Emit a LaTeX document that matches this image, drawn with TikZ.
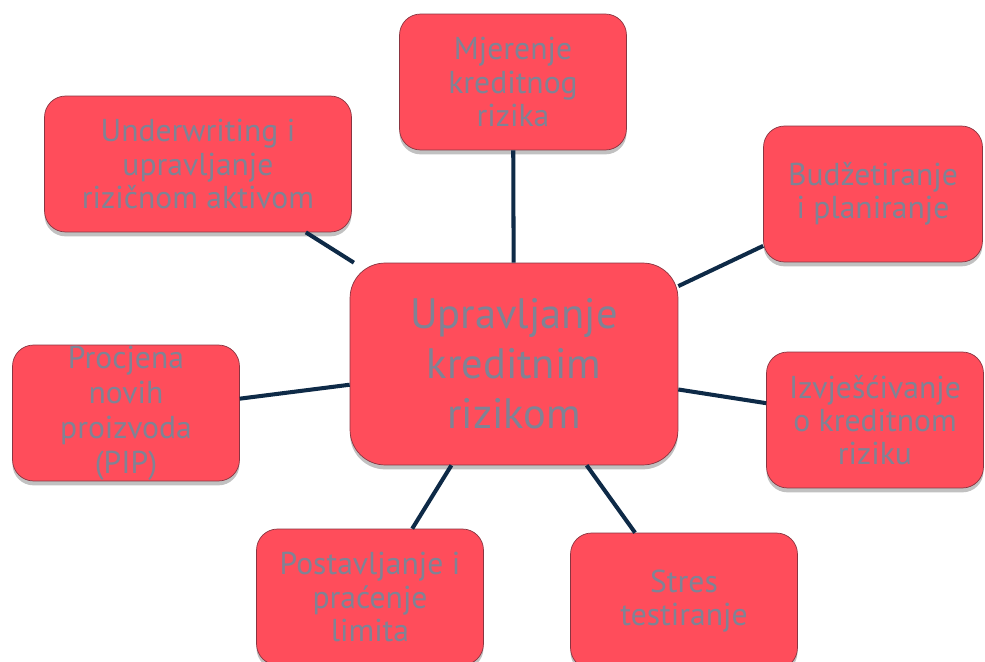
\documentclass[tikz,border=0pt]{standalone}
\usepackage{fontspec}
\setmainfont{PT Sans}
\usetikzlibrary{shadows}
\definecolor{boxred}{HTML}{FF4D5B}
\definecolor{boxedge}{HTML}{8A3440}
\definecolor{txtgray}{HTML}{7F8395}
\definecolor{linknavy}{HTML}{0E2A47}

\begin{document}
\begin{tikzpicture}[x=0.02cm, y=0.02cm]
\tikzstyle{every node}+=[inner sep=0pt]
\tikzstyle{topic}=[draw=boxedge, fill=boxred, text=txtgray, align=center, rounded corners=12pt, minimum width=4.54cm, minimum height=2.72cm, font=\fontsize{18}{19}\selectfont, drop shadow={shadow xshift=0pt, shadow yshift=-2.5pt, opacity=0.35, fill=black!70}]
\tikzstyle{hub}=[topic, minimum width=6.56cm, minimum height=4.04cm, rounded corners=20pt, font=\fontsize{24.2}{28.4}\selectfont]
\tikzstyle{link}=[draw=linknavy, line width=2.3pt]
\useasboundingbox (0,0) rectangle (985,-662);
% centre
\node [hub] (hub) at (514,-364) {Upravljanje\\kreditnim\\rizikom};
% surrounding topics
\node [topic] (mjer) at (513,-82) {Mjerenje\\kreditnog\\rizika};
\node [topic, minimum width=6.14cm] (under) at (198,-164) {Underwriting i\\upravljanje\\rizičnom aktivom};
\node [topic, minimum width=4.38cm] (budz) at (873,-194) {Budžetiranje\\i planiranje};
\node [topic, minimum width=4.34cm] (izvj) at (875,-420) {Izvješćivanje\\o kreditnom\\riziku};
\node [topic, font=\fontsize{18}{20}\selectfont] (proc) at (126,-413) {Procjena\\novih\\proizvoda\\(PIP)};
\node [topic] (post) at (370,-597) {Postavljanje i\\praćenje\\limita};
\node [topic] (stres) at (684,-601) {Stres\\testiranje};
% links
\draw [link] (hub) -- (mjer);
\draw [link] (hub) -- (under);
\draw [link] (hub) -- (budz);
\draw [link] (hub) -- (izvj);
\draw [link] (hub) -- (proc);
\draw [link] (hub) -- (post);
\draw [link] (hub) -- (stres);
\end{tikzpicture}
\end{document}
